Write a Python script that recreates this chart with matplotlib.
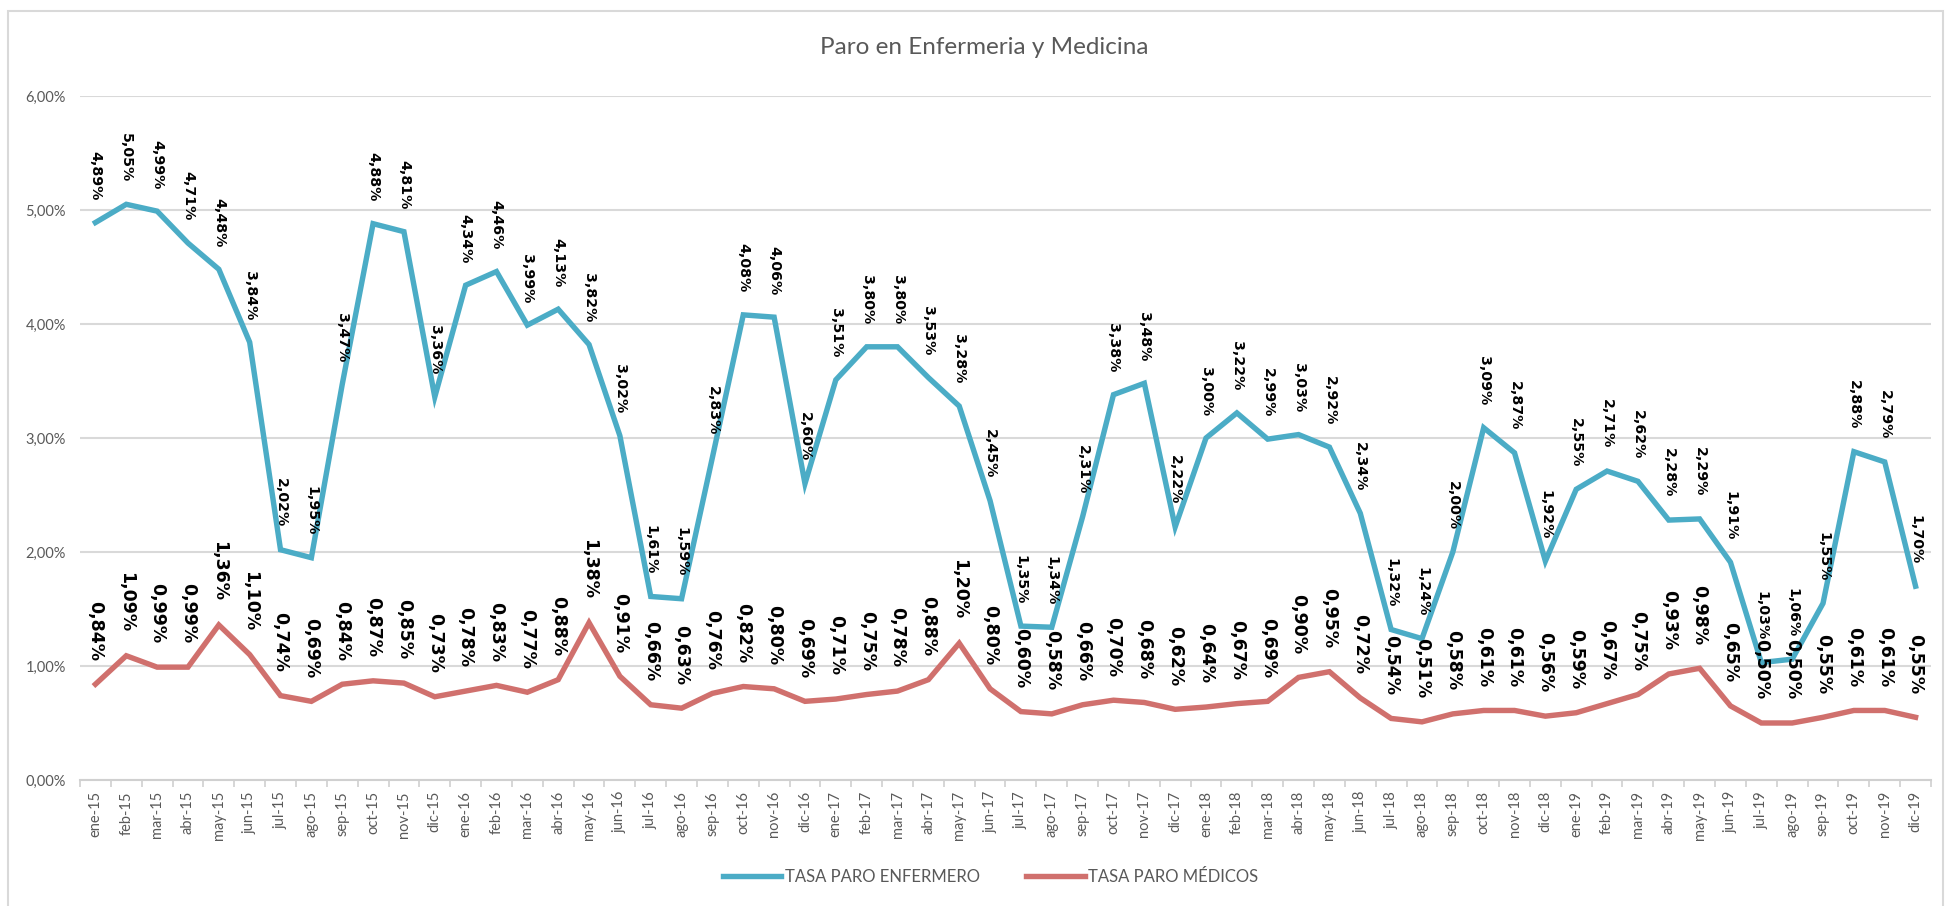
import matplotlib.pyplot as plt
from matplotlib.patches import Rectangle
from matplotlib.ticker import FuncFormatter

plt.rcParams['font.family'] = ['Lato', 'DejaVu Sans']

meses = ['ene', 'feb', 'mar', 'abr', 'may', 'jun', 'jul', 'ago', 'sep', 'oct', 'nov', 'dic']
anios = ['15', '16', '17', '18', '19']
categorias = [m + '-' + a for a in anios for m in meses]

enfermero = [4.89, 5.05, 4.99, 4.71, 4.48, 3.84, 2.02, 1.95, 3.47, 4.88, 4.81, 3.36,
             4.34, 4.46, 3.99, 4.13, 3.82, 3.02, 1.61, 1.59, 2.83, 4.08, 4.06, 2.60,
             3.51, 3.80, 3.80, 3.53, 3.28, 2.45, 1.35, 1.34, 2.31, 3.38, 3.48, 2.22,
             3.00, 3.22, 2.99, 3.03, 2.92, 2.34, 1.32, 1.24, 2.00, 3.09, 2.87, 1.92,
             2.55, 2.71, 2.62, 2.28, 2.29, 1.91, 1.03, 1.06, 1.55, 2.88, 2.79, 1.70]

medicos = [0.84, 1.09, 0.99, 0.99, 1.36, 1.10, 0.74, 0.69, 0.84, 0.87, 0.85, 0.73,
           0.78, 0.83, 0.77, 0.88, 1.38, 0.91, 0.66, 0.63, 0.76, 0.82, 0.80, 0.69,
           0.71, 0.75, 0.78, 0.88, 1.20, 0.80, 0.60, 0.58, 0.66, 0.70, 0.68, 0.62,
           0.64, 0.67, 0.69, 0.90, 0.95, 0.72, 0.54, 0.51, 0.58, 0.61, 0.61, 0.56,
           0.59, 0.67, 0.75, 0.93, 0.98, 0.65, 0.50, 0.50, 0.55, 0.61, 0.61, 0.55]

c_enf = '#4BACC6'
c_med = '#D0706D'
gris = '#595959'

fig = plt.figure(figsize=(19.5, 9.06), dpi=100)
ax = fig.add_axes([80/1950, 1-780/906, (1931-80)/1950, (780-96)/906])

x = list(range(len(categorias)))
ax.plot(x, enfermero, color=c_enf, lw=3.9, solid_joinstyle='miter', label='TASA PARO ENFERMERO', zorder=3)
ax.plot(x, medicos, color=c_med, lw=3.9, solid_joinstyle='miter', label='TASA PARO MÉDICOS', zorder=3)

def pct(v):
    return ('%.2f%%' % v).replace('.', ',')

for i in x:
    ax.annotate(pct(enfermero[i]), (i, enfermero[i]), xytext=(0, 16), textcoords='offset points',
                ha='center', va='bottom', rotation=-90, fontsize=10.2, fontweight='bold',
                family='DejaVu Sans', color='black', zorder=4)
    ax.annotate(pct(medicos[i]), (i, medicos[i]), xytext=(0, 17), textcoords='offset points',
                ha='center', va='bottom', rotation=-90, fontsize=12.5, fontweight='bold',
                family='DejaVu Sans', color='black', zorder=4)

ax.set_xlim(-0.5, len(categorias) - 0.5)
ax.set_ylim(0, 6)
ax.set_yticks([0, 1, 2, 3, 4, 5, 6])
ax.yaxis.set_major_formatter(FuncFormatter(lambda v, p: pct(v)))
ax.set_xticks(x)
ax.set_xticklabels(categorias, rotation=90, fontsize=10.5, color=gris)
ax.set_xticks([i - 0.5 for i in range(len(categorias) + 1)], minor=True)
ax.tick_params(axis='x', which='major', length=0, pad=8)
ax.tick_params(axis='x', which='minor', length=5, color='#D0D0D0', width=1.2)
ax.tick_params(axis='y', length=0, labelsize=10.5, labelcolor=gris, pad=10)
ax.grid(axis='y', color='#D9D9D9', lw=1.5)
ax.set_axisbelow(True)
for s in ['left', 'right', 'top']:
    ax.spines[s].set_visible(False)
ax.spines['bottom'].set_color('#D0D0D0')
ax.spines['bottom'].set_linewidth(1.5)

fig.text(0.505, 1-48/906, 'Paro en Enfermeria y Medicina', ha='center', va='center',
         fontsize=17.5, color=gris)

leg = fig.legend(loc='center', bbox_to_anchor=(0.508, 1-877/906), ncol=2, frameon=False,
                 fontsize=12, handlelength=3.5, columnspacing=2.8, handletextpad=0.2)
for t in leg.get_texts():
    t.set_color(gris)

fig.patches.append(Rectangle((8/1950, -0.1), (1943-8)/1950, 1.1-11/906, transform=fig.transFigure,
                             fill=False, edgecolor='#D9D9D9', lw=1.5))

fig.savefig('out.png', dpi=100)
